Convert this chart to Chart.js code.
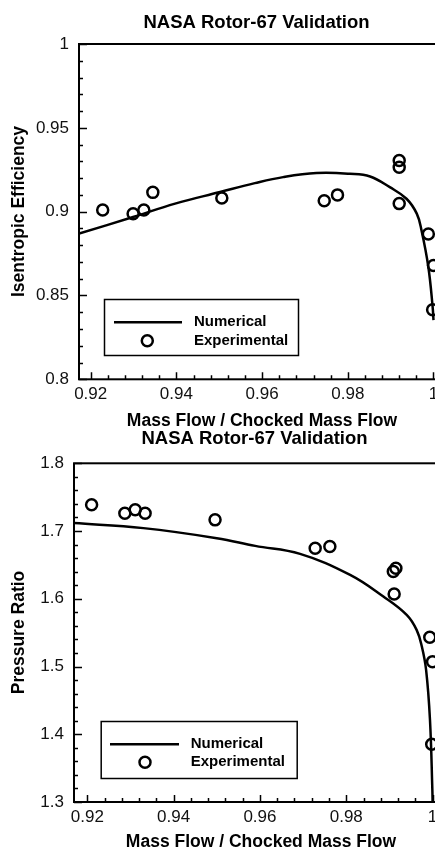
<!DOCTYPE html>
<html>
<head>
<meta charset="utf-8">
<script src="https://cdn.jsdelivr.net/npm/chart.js@4"></script>
<style>
  html, body { margin: 0; padding: 0; background: #fff; }
  body { width: 435px; height: 850px; overflow: hidden; position: relative; }
  canvas { position: absolute; left: 0; }
  #effChart { top: 0; }
  #prChart { top: 425px; }
</style>
</head>
<body>
<canvas id="effChart" width="470" height="435"></canvas>
<canvas id="prChart" width="470" height="425"></canvas>
<script>
// efficiency: experimental points
const effFlowExp = [0.9228, 0.9299, 0.9324, 0.9345, 0.9506, 0.9745, 0.9776, 0.9920, 0.9920, 0.9920, 0.9988, 1.0000, 0.9998];
const effExp     = [0.9010, 0.8988, 0.9010, 0.9115, 0.9082, 0.9065, 0.9100, 0.9305, 0.9265, 0.9048, 0.8867, 0.8679, 0.8415];
// efficiency: numerical curve
const effFlowNum = [0.9173, 0.9299, 0.9397, 0.9502, 0.9583, 0.9649, 0.9727, 0.9805, 0.9852, 0.9898, 0.9937, 0.9961, 0.9972, 0.9988, 0.9998, 1.0000];
const effNum     = [0.8869, 0.8968, 0.9048, 0.9117, 0.9170, 0.9206, 0.9230, 0.9226, 0.9210, 0.9146, 0.9077, 0.8988, 0.8889, 0.8670, 0.8432, 0.8353];

// pressure ratio: experimental points
const prFlowExp = [0.9210, 0.9287, 0.9311, 0.9334, 0.9496, 0.9728, 0.9762, 0.9909, 0.9915, 0.9911, 0.99935, 1.0000, 0.9998];
const prExp     = [1.7387, 1.7264, 1.7313, 1.7264, 1.7165, 1.6747, 1.6771, 1.6402, 1.6452, 1.6072, 1.5433, 1.5072, 1.3852];
// pressure ratio: numerical curve
const prFlowNum = [0.9169, 0.9330, 0.9500, 0.9589, 0.9693, 0.9809, 0.9886, 0.9940, 0.9963, 0.9975, 0.9985, 0.9994, 0.99995, 1.0000];
const prNum     = [1.7117, 1.7043, 1.6895, 1.6781, 1.6663, 1.6353, 1.6033, 1.5762, 1.5541, 1.5300, 1.4950, 1.4211, 1.3177, 1.3000];

const flowTicks = [0.92, 0.94, 0.96, 0.98, 1.0];
const effTicks = [0.8, 0.85, 0.9, 0.95, 1.0];
const prTicks = [1.3, 1.4, 1.5, 1.6, 1.7, 1.8];

const FONT = '"Liberation Sans", Arial, Helvetica, sans-serif';

function pairs(xs, ys) {
  return xs.map((x, i) => ({ x: x, y: ys[i] }));
}

// frame, inward tick marks, titles and boxed legend
const framePlugin = {
  id: 'frame',
  afterDraw(chart, args, o) {
    const ctx = chart.ctx;
    const a = chart.chartArea;
    const xs = chart.scales.x, ys = chart.scales.y;
    ctx.save();
    ctx.strokeStyle = '#000';
    ctx.lineWidth = 2;
    ctx.strokeRect(a.left, a.top, a.right - a.left, a.bottom - a.top);

    ctx.lineWidth = 1.5;
    ctx.beginPath();
    const xMajor = o.xMajor, yMajor = o.yMajor;
    for (let v = xMajor[0]; v <= xMajor[xMajor.length - 1] + 1e-9; v += o.xMinor) {
      const p = Math.round(xs.getPixelForValue(v)) + 0.5;
      const big = xMajor.some(m => Math.abs(m - v) < 1e-6);
      ctx.moveTo(p, a.bottom);
      ctx.lineTo(p, a.bottom - (big ? 7 : 4));
    }
    for (let v = yMajor[0]; v <= yMajor[yMajor.length - 1] + 1e-9; v += o.yMinor) {
      const p = Math.round(ys.getPixelForValue(v)) + 0.5;
      const big = yMajor.some(m => Math.abs(m - v) < 1e-6);
      ctx.moveTo(a.left, p);
      ctx.lineTo(a.left + (big ? 8 : 4), p);
    }
    ctx.stroke();

    ctx.fillStyle = '#000';
    ctx.textAlign = 'center';
    ctx.textBaseline = 'middle';
    ctx.font = 'bold 18.5px ' + FONT;
    ctx.fillText(o.title, o.titleX, o.titleY);
    ctx.font = 'bold 17.5px ' + FONT;
    ctx.fillText(o.xTitle, o.xTitleX, o.xTitleY);
    ctx.save();
    ctx.translate(o.yTitleX, o.yTitleY);
    ctx.rotate(-Math.PI / 2);
    ctx.fillText(o.yTitle, 0, 0);
    ctx.restore();

    // legend
    const L = o.legend;
    ctx.lineWidth = 1.5;
    ctx.strokeRect(L.x + 0.5, L.y + 0.5, L.w, L.h);
    const line = chart.data.datasets[0], pts = chart.data.datasets[1];
    ctx.lineWidth = line.borderWidth;
    ctx.beginPath();
    ctx.moveTo(L.lineX0, L.row1);
    ctx.lineTo(L.lineX1, L.row1);
    ctx.stroke();
    ctx.lineWidth = pts.borderWidth;
    ctx.beginPath();
    ctx.arc(L.markX, L.row2, pts.pointRadius, 0, Math.PI * 2);
    ctx.stroke();
    ctx.font = 'bold 15px ' + FONT;
    ctx.textAlign = 'left';
    ctx.fillText(line.label, L.textX, L.row1);
    ctx.fillText(pts.label, L.textX, L.row2);
    ctx.restore();
  }
};

function makeChart(id, cfg) {
  return new Chart(document.getElementById(id), {
    type: 'scatter',
    data: {
      datasets: [
        {
          label: 'Numerical',
          data: pairs(cfg.flowNum, cfg.num),
          showLine: true,
          borderColor: '#000',
          borderWidth: 2.5,
          pointRadius: 0,
          tension: 0.4
        },
        {
          label: 'Experimental',
          data: pairs(cfg.flowExp, cfg.exp),
          showLine: false,
          pointStyle: 'circle',
          pointRadius: 5.5,
          borderWidth: 2.5,
          borderColor: '#000',
          backgroundColor: 'rgba(0,0,0,0)'
        }
      ]
    },
    options: {
      responsive: false,
      animation: false,
      layout: { padding: { top: cfg.padTop, right: 30, bottom: 0, left: 0 } },
      plugins: {
        legend: { display: false },
        tooltip: { enabled: false },
        frame: cfg.frame
      },
      scales: {
        x: {
          type: 'linear',
          min: cfg.xMin,
          max: cfg.xMax,
          grid: { display: false, drawTicks: false },
          border: { display: false },
          afterBuildTicks: s => { s.ticks = flowTicks.map(v => ({ value: v })); },
          afterFit: s => { s.height = cfg.xHeight; },
          ticks: {
            autoSkip: false,
            maxRotation: 0,
            padding: 5,
            color: '#111',
            font: { family: FONT, size: 17 },
            callback: v => String(v)
          }
        },
        y: {
          type: 'linear',
          min: cfg.yTicks[0],
          max: cfg.yTicks[cfg.yTicks.length - 1],
          grid: { display: false, drawTicks: false },
          border: { display: false },
          afterBuildTicks: s => { s.ticks = cfg.yTicks.map(v => ({ value: v })); },
          afterFit: s => { s.width = cfg.yWidth; },
          ticks: {
            autoSkip: false,
            padding: 10,
            color: '#111',
            font: { family: FONT, size: 17 },
            callback: v => String(v)
          }
        }
      }
    },
    plugins: [framePlugin]
  });
}

makeChart('effChart', {
  flowNum: effFlowNum, num: effNum, flowExp: effFlowExp, exp: effExp,
  xMin: 0.91727, xMax: 1.00152, yTicks: effTicks,
  padTop: 44, xHeight: 55.7, yWidth: 79,
  frame: {
    title: 'NASA Rotor-67 Validation', titleX: 256.5, titleY: 22.5,
    xTitle: 'Mass Flow / Chocked Mass Flow', xTitleX: 262, xTitleY: 421,
    yTitle: 'Isentropic Efficiency', yTitleX: 19, yTitleY: 211.5,
    xMajor: flowTicks, xMinor: 0.004, yMajor: effTicks, yMinor: 0.01,
    legend: { x: 104, y: 299, w: 194, h: 56, lineX0: 114, lineX1: 182, markX: 147.3,
              textX: 194, row1: 322.3, row2: 340.7 }
  }
});

makeChart('prChart', {
  flowNum: prFlowNum, num: prNum, flowExp: prFlowExp, exp: prExp,
  xMin: 0.91692, xMax: 1.00172, yTicks: prTicks,
  padTop: 38.3, xHeight: 48, yWidth: 74,
  frame: {
    title: 'NASA Rotor-67 Validation', titleX: 254.5, titleY: 13.5,
    xTitle: 'Mass Flow / Chocked Mass Flow', xTitleX: 261, xTitleY: 417,
    yTitle: 'Pressure Ratio', yTitleX: 19, yTitleY: 207.5,
    xMajor: flowTicks, xMinor: 0.004, yMajor: prTicks, yMinor: 0.02,
    legend: { x: 100.7, y: 296, w: 196, h: 57, lineX0: 110, lineX1: 179, markX: 145,
              textX: 190.7, row1: 319.3, row2: 337.3 }
  }
});
</script>
</body>
</html>
